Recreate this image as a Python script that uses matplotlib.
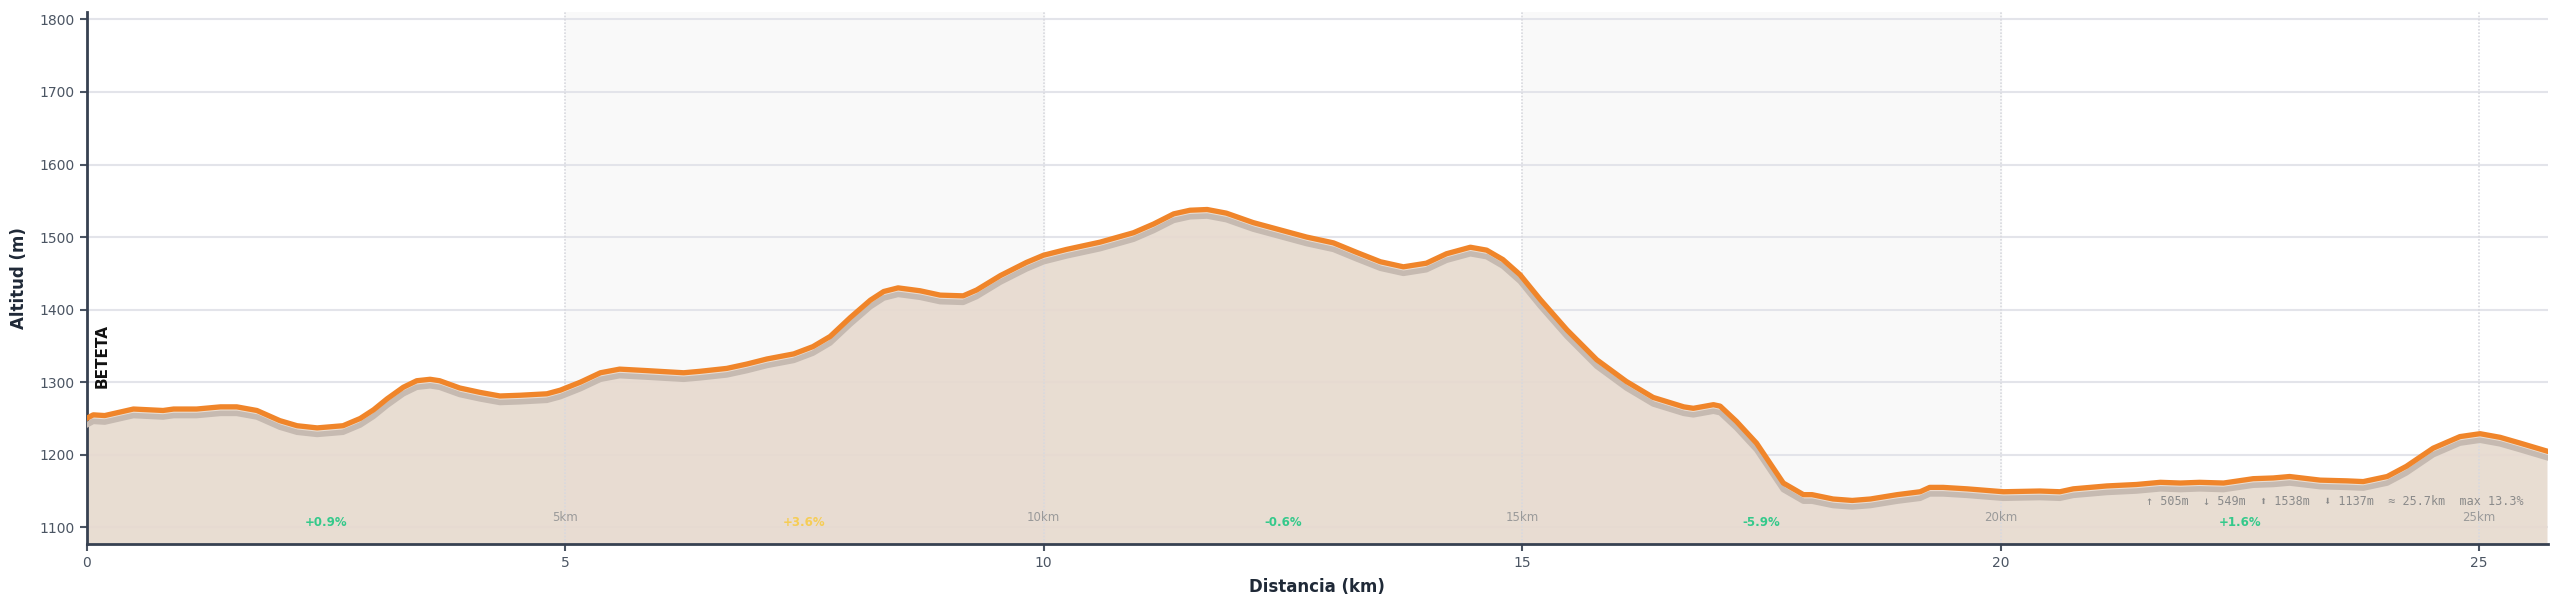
# ================================================    Modules import     =====================================================

import numpy as np
import matplotlib
matplotlib.use("Agg")
import matplotlib.pyplot as plt

# ================================================          Data          ================================================

# Elevation profile (km, m)
dist_km = [0.00, 0.07, 0.19, 0.49, 0.80, 0.91, 1.15, 1.40, 1.57, 1.78, 2.02, 2.20, 2.41, 2.68, 2.86,
           3.00, 3.14, 3.31, 3.45, 3.59, 3.69, 3.90, 4.11, 4.32, 4.53, 4.81, 4.95, 5.16, 5.37, 5.57,
           5.85, 6.24, 6.41, 6.69, 6.90, 7.11, 7.39, 7.59, 7.77, 7.98, 8.19, 8.33, 8.48, 8.71, 8.92,
           9.16, 9.30, 9.55, 9.82, 10.00, 10.24, 10.59, 10.94, 11.15, 11.36, 11.53, 11.71, 11.91,
           12.19, 12.47, 12.75, 13.03, 13.27, 13.52, 13.76, 14.00, 14.21, 14.46, 14.63, 14.80, 14.98,
           15.19, 15.47, 15.78, 16.09, 16.37, 16.69, 16.79, 17.00, 17.07, 17.24, 17.45, 17.73, 17.94,
           18.03, 18.25, 18.45, 18.64, 18.92, 19.16, 19.26, 19.40, 19.65, 20.03, 20.41, 20.62, 20.76,
           21.11, 21.42, 21.67, 21.88, 22.08, 22.33, 22.64, 22.85, 23.02, 23.34, 23.62, 23.79, 24.04,
           24.24, 24.52, 24.80, 25.01, 25.22, 25.43, 25.71]
elev_m = [1250, 1255, 1254, 1263, 1261, 1263, 1263, 1266, 1266, 1261, 1247, 1240, 1237, 1240, 1250,
          1262, 1277, 1293, 1302, 1304, 1302, 1292, 1286, 1281, 1282, 1284, 1289, 1300, 1313, 1318,
          1316, 1313, 1315, 1319, 1325, 1332, 1339, 1349, 1363, 1389, 1413, 1425, 1430, 1426, 1420,
          1419, 1427, 1447, 1465, 1475, 1483, 1493, 1506, 1518, 1532, 1537, 1538, 1533,
          1520, 1510, 1500, 1492, 1479, 1466, 1459, 1464, 1477, 1486, 1482, 1469, 1448,
          1414, 1372, 1331, 1301, 1279, 1266, 1264, 1269, 1267, 1246, 1216, 1161, 1145,
          1145, 1139, 1137, 1139, 1145, 1149, 1155, 1155, 1153, 1149, 1150, 1149, 1153,
          1157, 1159, 1162, 1161, 1162, 1161, 1167, 1168, 1170, 1165, 1164, 1163, 1170,
          1184, 1209, 1225, 1229, 1224, 1216, 1205]

# Gradient per 5 km segment
seg_mid_km = [2.5, 7.5, 12.5, 17.5, 22.5]
seg_labels = ["+0.9%", "+3.6%", "-0.6%", "-5.9%", "+1.6%"]
seg_colors = ["#34c98b", "#f6cd55", "#34c98b", "#34c98b", "#34c98b"]

km_marks = [5, 10, 15, 20, 25]
stats_text = "↑ 505m  ↓ 549m  ⬆ 1538m  ⬇ 1137m  ≈ 25.7km  max 13.3%"
start_name = "BETETA"

# ================================================          Plot          ================================================

x = np.array(dist_km)
y = np.array(elev_m)
y_min, y_max = 1077, 1810

fig = plt.figure(figsize=(25.6, 6.08), dpi=100)
ax = fig.add_axes([0.0338, 0.1053, 0.9615, 0.8747])

# Alternate 5 km bands
for k in range(0, len(km_marks) - 1, 2):
    ax.axvspan(km_marks[k], km_marks[k + 1], color="#f9f9f9", zorder=0)

ax.set_axisbelow(True)
ax.grid(axis="y", color="#e3e4ea", linewidth=1.5)

# Area + shadow + profile line
ax.fill_between(x, y, y_min, color="#e7dacf", alpha=0.92, lw=0, zorder=2)
ax.plot(x, y - 9, color="#c6bab1", lw=4.0, solid_joinstyle="round", zorder=3)
ax.plot(x, y, color="#f0852a", lw=3.8, solid_joinstyle="round", zorder=4)

# km markers
for km in km_marks:
    ax.axvline(km, color="#d8d9df", lw=1.2, ls=(0, (1, 1)), zorder=2.5)
    ax.text(km, 1113, "%dkm" % km, ha="center", va="center", fontsize=8.5, color="#9a9a9a", zorder=5)

for xm, lab, col in zip(seg_mid_km, seg_labels, seg_colors):
    ax.text(xm, 1107, lab, ha="center", va="center", fontsize=8.5, fontweight="bold", color=col, zorder=5)

ax.text(0.99, 0.08, stats_text, transform=ax.transAxes, ha="right", va="center",
        fontsize=8.5, color="#8a8a8a", family=["DejaVu Sans Mono", "DejaVu Sans"], zorder=5)

ax.text(0.16, 1292, start_name, rotation=90, ha="center", va="bottom",
        fontsize=11, fontweight="bold", color="#111111", zorder=5)

# Axes styling
ax.set_xlim(0, 25.72)
ax.set_ylim(y_min, y_max)
ax.set_xticks([0, 5, 10, 15, 20, 25])
ax.set_yticks(np.arange(1100, 1801, 100))
ax.tick_params(axis="both", labelsize=10, colors="#4b5563", length=5, width=1.5)
for side in ["top", "right"]:
    ax.spines[side].set_visible(False)
for side in ["left", "bottom"]:
    ax.spines[side].set_color("#374151")
    ax.spines[side].set_linewidth(2)

ax.set_xlabel("Distancia (km)", fontsize=12, fontweight="bold", color="#1f2937", labelpad=6)
ax.set_ylabel("Altitud (m)", fontsize=12, fontweight="bold", color="#1f2937", labelpad=8)

fig.savefig("out.png", dpi=100)
plt.close(fig)
